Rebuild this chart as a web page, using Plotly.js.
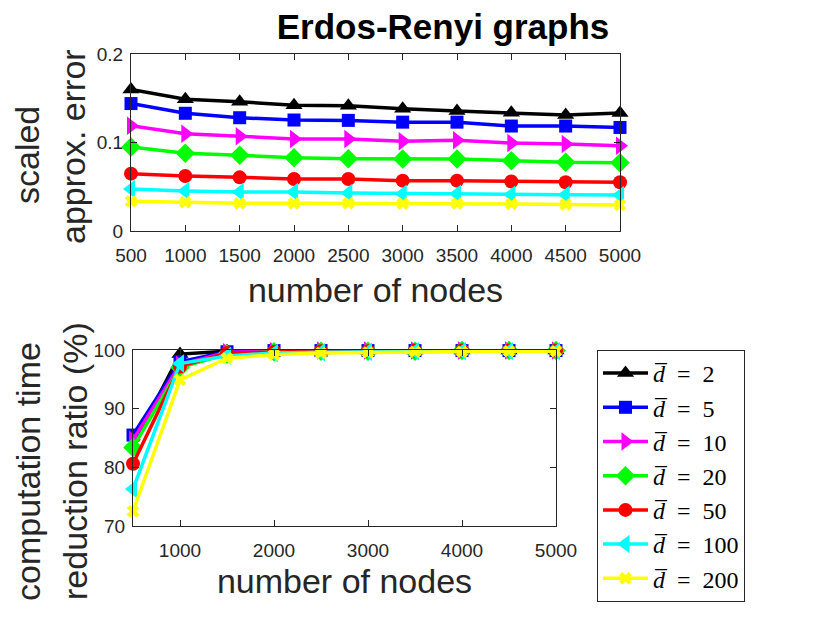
<!DOCTYPE html>
<html>
<head>
<meta charset="utf-8">
<script src="https://cdn.plot.ly/plotly-3.0.1.min.js"></script>
<style>html,body{margin:0;padding:0;background:#fff;}#chart{width:830px;height:623px;}</style>
</head>
<body>
<div id="chart"></div>
<script>
// ---- data ----
var nodes = [500, 1000, 1500, 2000, 2500, 3000, 3500, 4000, 4500, 5000];
var degreeLabels = ["2", "5", "10", "20", "50", "100", "200"];

// scaled approx. error
var err_d2   = [0.160, 0.149, 0.146, 0.142, 0.1416, 0.138, 0.1356, 0.1337, 0.131, 0.1333];
var err_d5   = [0.144, 0.133, 0.128, 0.1254, 0.125, 0.123, 0.123, 0.1186, 0.1186, 0.117];
var err_d10  = [0.119, 0.110, 0.107, 0.104, 0.104, 0.1013, 0.1025, 0.0994, 0.0983, 0.0964];
var err_d20  = [0.0949, 0.0878, 0.0855, 0.0829, 0.0817, 0.0814, 0.0814, 0.0795, 0.0776, 0.0772];
var err_d50  = [0.0648, 0.0621, 0.0606, 0.0588, 0.0588, 0.0569, 0.0569, 0.056, 0.055, 0.055];
var err_d100 = [0.0475, 0.0452, 0.044, 0.044, 0.0429, 0.0422, 0.0422, 0.041, 0.041, 0.0407];
var err_d200 = [0.0335, 0.0324, 0.0313, 0.0313, 0.0313, 0.031, 0.031, 0.0305, 0.030, 0.0294];

// computation time reduction ratio (%)
var red_d2   = [83.8, 99.3, 99.8, 99.9, 99.9, 99.9, 99.9, 99.9, 99.9, 99.9];
var red_d5   = [85.5, 98.0, 99.7, 99.9, 99.9, 99.9, 99.9, 99.9, 99.9, 99.9];
var red_d10  = [84.7, 97.5, 99.6, 99.8, 99.9, 99.9, 99.9, 99.9, 99.9, 99.9];
var red_d20  = [83.4, 97.0, 99.3, 99.7, 99.8, 99.8, 99.8, 99.9, 99.9, 99.9];
var red_d50  = [80.6, 97.2, 99.5, 99.7, 99.8, 99.8, 99.9, 99.9, 99.9, 99.9];
var red_d100 = [76.3, 97.7, 99.0, 99.5, 99.6, 99.7, 99.8, 99.8, 99.8, 99.8];
var red_d200 = [72.5, 94.9, 98.6, 99.2, 99.5, 99.6, 99.7, 99.7, 99.8, 99.8];

var errSeries = [err_d2, err_d5, err_d10, err_d20, err_d50, err_d100, err_d200];
var redSeries = [red_d2, red_d5, red_d10, red_d20, red_d50, red_d100, red_d200];

var topYTitle = ["scaled", "approx. error"];
var bottomYTitle = ["computation time", "reduction ratio (%)"];

// ---- styles ----
var colors  = ["#000000", "#0000ff", "#ff00ff", "#00ff00", "#ff0000", "#00ffff", "#ffff00"];
var symbols = ["triangle-up", "square", "triangle-right", "diamond", "circle", "triangle-left", "x"];
var sizes   = [15, 13, 16, 15, 14, 16, 11];

function legendName(lbl) { return "<i>d\u0305</i>\u2002=\u2002" + lbl; }

var traces = [];
for (var i = 0; i < errSeries.length; i++) {
  traces.push({
    x: nodes, y: errSeries[i], xaxis: "x", yaxis: "y",
    type: "scatter", mode: "lines+markers",
    name: legendName(degreeLabels[i]),
    line: {color: colors[i], width: 3.5},
    marker: {symbol: symbols[i], size: sizes[i], color: colors[i], line: {width: 0}},
    showlegend: true, cliponaxis: false
  });
}
for (var j = 0; j < redSeries.length; j++) {
  traces.push({
    x: nodes, y: redSeries[j], xaxis: "x2", yaxis: "y2",
    type: "scatter", mode: "lines+markers",
    name: legendName(degreeLabels[j]),
    line: {color: colors[j], width: 3.5},
    marker: {symbol: symbols[j], size: sizes[j], color: colors[j], line: {width: 0}},
    showlegend: false, cliponaxis: false
  });
}

var axisColor = "#262626";
var tickFont = {family: "Liberation Sans, Arial, sans-serif", size: 19, color: axisColor};
var titleFont = {family: "Liberation Sans, Arial, sans-serif", size: 34, color: axisColor};

function baseAxis() {
  return {
    showgrid: false, zeroline: false, showline: true, mirror: "ticks",
    linecolor: axisColor, linewidth: 1, ticks: "inside", ticklen: 6,
    tickcolor: axisColor, tickwidth: 1, tickfont: tickFont
  };
}

var xa = baseAxis();
Object.assign(xa, {domain: [131/830, 620/830], range: [500, 5000], tickvals: nodes,
  anchor: "y", ticklabelstandoff: 7, title: {text: "number of nodes", font: titleFont, standoff: 13}});
var ya = baseAxis();
Object.assign(ya, {domain: [(623-231)/623, (623-54)/623], range: [0, 0.2], tickvals: [0, 0.1, 0.2],
  ticktext: ["0", "0.1", "0.2"], anchor: "x", ticklabelstandoff: 3});
var xa2 = baseAxis();
Object.assign(xa2, {domain: [133/830, 556/830], range: [500, 5000], tickvals: [1000, 2000, 3000, 4000, 5000],
  anchor: "y2", ticklabelstandoff: 7, title: {text: "number of nodes", font: titleFont, standoff: 9}});
var ya2 = baseAxis();
Object.assign(ya2, {domain: [(623-526)/623, (623-350)/623], range: [70, 100], tickvals: [70, 80, 90, 100],
  anchor: "x2", ticklabelstandoff: 3});

function yTitle(text, xpx, ypx) {
  return {text: text, textangle: -90, xref: "paper", yref: "paper",
    x: xpx/830, y: 1 - ypx/623, xanchor: "center", yanchor: "middle",
    showarrow: false, font: titleFont};
}

var annotations = [
  yTitle(topYTitle[0], 27, 155),
  yTitle(topYTitle[1], 73, 147),
  yTitle(bottomYTitle[0], 28, 472),
  yTitle(bottomYTitle[1], 75, 461)
];

var layout = {
  width: 830, height: 623,
  margin: {l: 0, r: 0, t: 0, b: 0},
  paper_bgcolor: "#ffffff", plot_bgcolor: "#ffffff",
  title: {text: "<b>Erdos-Renyi graphs</b>", x: 443/830, xanchor: "center", xref: "paper",
    y: 1 - 27/623, yanchor: "middle", yref: "paper",
    font: {family: "Liberation Sans, Arial, sans-serif", size: 35, color: "#000000"}},
  xaxis: xa, yaxis: ya, xaxis2: xa2, yaxis2: ya2,
  annotations: annotations,
  showlegend: true,
  legend: {x: 597/830, y: (623-350)/623, xanchor: "left", yanchor: "top",
    bordercolor: axisColor, borderwidth: 1, bgcolor: "#ffffff",
    font: {family: "Liberation Serif, DejaVu Serif, serif", size: 24, color: "#000000"},
    itemwidth: 45, tracegroupgap: 0}
};

Plotly.newPlot("chart", traces, layout, {displayModeBar: false, staticPlot: true});
</script>
</body>
</html>
